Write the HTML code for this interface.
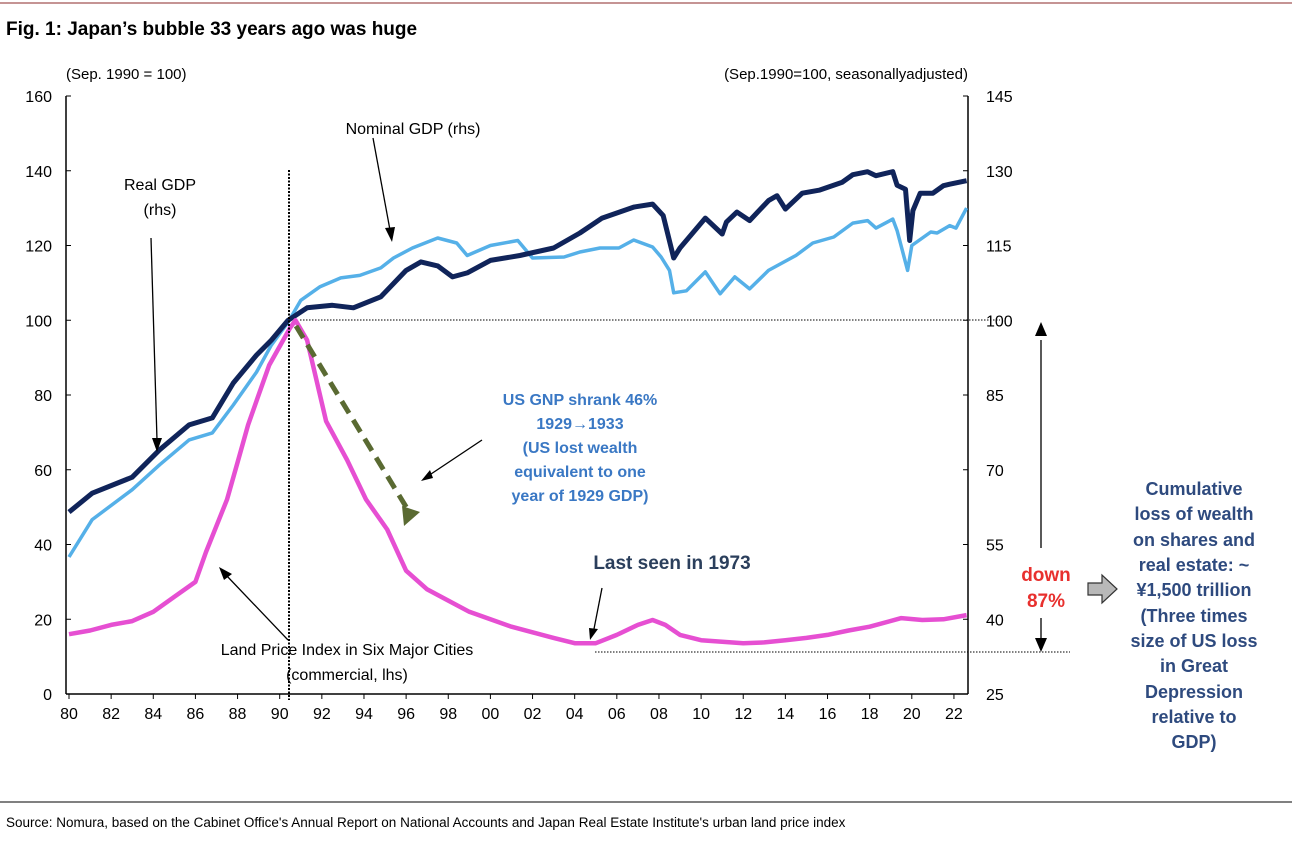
<!DOCTYPE html>
<html><head><meta charset="utf-8"><style>
body{margin:0;background:#fff;}
svg text{font-family:"Liberation Sans",Arial,sans-serif;}
</style></head><body>
<svg width="1292" height="843" viewBox="0 0 1292 843" xmlns="http://www.w3.org/2000/svg">
<line x1="0" y1="3" x2="1292" y2="3" stroke="#8b2a2a" stroke-width="1"/>
<text x="6" y="35" font-size="19" font-weight="bold" fill="#000">Fig. 1: Japan’s bubble 33 years ago was huge</text>
<text x="66" y="79" font-size="15" fill="#000">(Sep. 1990 = 100)</text>
<text x="968" y="79" font-size="15" fill="#000" text-anchor="end">(Sep.1990=100, seasonallyadjusted)</text>
<g id="axes"></g>
<g id="series"></g>
<g id="annot">
<line x1="289" y1="170" x2="289" y2="700" stroke="#000" stroke-width="2" stroke-dasharray="2,1.5"/>
<line x1="300" y1="320" x2="1000" y2="320" stroke="#000" stroke-width="1" stroke-dasharray="1.5,1.5"/>
<line x1="595" y1="652" x2="1070" y2="652" stroke="#000" stroke-width="1" stroke-dasharray="1.5,1.5"/>
<line x1="296" y1="326" x2="408" y2="510" stroke="#5a6a32" stroke-width="5" stroke-dasharray="14,8"/>
<polygon points="404,526 402,506 420,512" fill="#5a6a32"/>
<g stroke="#000" stroke-width="1.3" fill="none">
<line x1="151" y1="238" x2="157" y2="440"/>
<line x1="373" y1="138" x2="390" y2="230"/>
<line x1="482" y1="440" x2="425" y2="478"/>
<line x1="288" y1="640" x2="226" y2="575"/>
<line x1="602" y1="588" x2="593" y2="634"/>
<line x1="1041" y1="340" x2="1041" y2="548"/>
<line x1="1041" y1="618" x2="1041" y2="640"/>
</g>
<g fill="#000">
<polygon points="157,452 152,438 162,438"/>
<polygon points="392,242 385,228 395,227"/>
<polygon points="421,481 430,470 433,478"/>
<polygon points="219,567 232,574 224,580"/>
<polygon points="590,640 589,628 598,629"/>
<polygon points="1041,322 1035,336 1047,336"/>
<polygon points="1041,652 1035,638 1047,638"/>
</g>
<polygon points="1088,583 1102,583 1102,575 1117,589 1102,603 1102,595 1088,595" fill="#b8b8b8" stroke="#333" stroke-width="1.2"/>
<g font-size="16" fill="#000" text-anchor="middle">
<text x="160" y="190">Real GDP</text>
<text x="160" y="215">(rhs)</text>
<text x="413" y="134">Nominal GDP (rhs)</text>
<text x="347" y="655">Land Price Index in Six Major Cities</text>
<text x="347" y="680">(commercial, lhs)</text>
</g>
<g font-size="16" font-weight="bold" fill="#3a78c4" text-anchor="middle">
<text x="580" y="405">US GNP shrank 46%</text>
<text x="580" y="429">1929→1933</text>
<text x="580" y="453">(US lost wealth</text>
<text x="580" y="477">equivalent to one</text>
<text x="580" y="501">year of 1929 GDP)</text>
</g>
<text x="672" y="569" font-size="19" font-weight="bold" fill="#2b3f5c" text-anchor="middle">Last seen in 1973</text>
<g font-size="19" font-weight="bold" fill="#e8302e" text-anchor="middle">
<text x="1046" y="581">down</text><text x="1046" y="607">87%</text>
</g>
<g font-size="18" font-weight="bold" fill="#2e4a7e" text-anchor="middle">
<text x="1194" y="495">Cumulative</text>
<text x="1194" y="520">loss of wealth</text>
<text x="1194" y="546">on shares and</text>
<text x="1194" y="571">real estate: ~</text>
<text x="1194" y="596">¥1,500 trillion</text>
<text x="1194" y="622">(Three times</text>
<text x="1194" y="647">size of US loss</text>
<text x="1194" y="672">in Great</text>
<text x="1194" y="698">Depression</text>
<text x="1194" y="723">relative to</text>
<text x="1194" y="748">GDP)</text>
</g>
</g>
<line x1="0" y1="802" x2="1292" y2="802" stroke="#000" stroke-width="1"/>
<text x="6" y="827" font-size="13.5" fill="#000">Source: Nomura, based on the Cabinet Office's Annual Report on National Accounts and Japan Real Estate Institute's urban land price index</text>
</svg>
<script>
const xTicks=[80,82,84,86,88,90,92,94,96,98,0,2,4,6,8,10,12,14,16,18,20,22];
const leftTicks=[0,20,40,60,80,100,120,140,160];
const rightTicks=[25,40,55,70,85,100,115,130,145];
const landYears=[1980,1981,1982,1983,1984,1985,1986,1986.5,1987,1987.5,1988,1988.5,1989,1989.5,1990,1990.5,1990.75,1991.3,1992.2,1993.2,1994.1,1995.1,1996,1997,1998,1999,2000,2001,2002,2003,2004,2005,2006,2007,2007.7,2008.3,2009,2010,2011,2012,2013,2014,2015,2016,2017,2018,2019.5,2020.5,2021.5,2022.6];
const landValues=[16,17,18.5,19.5,22,26,30,38,45,52,62,72,80,88,93,98,100,94.7,73,62.6,52,44,33,28,25,22,20,18,16.5,15,13.6,13.6,15.8,18.5,19.8,18.5,15.8,14.4,14,13.6,13.8,14.4,15,15.8,17,18,20.3,19.8,20,21.1];
const nomYears=[1980,1981.1,1983,1984.3,1985.7,1986.8,1987.8,1988.9,1989.6,1990.4,1991,1991.9,1992.9,1993.8,1994.8,1995.4,1996.3,1997.5,1998.4,1998.9,2000,2001.3,2002,2003.5,2004.25,2005.2,2006.1,2006.8,2007.7,2008.1,2008.5,2008.7,2009.3,2010.2,2010.9,2011.6,2012.3,2013.2,2014.5,2015.3,2016.3,2017.2,2017.9,2018.3,2019.1,2019.3,2019.8,2020,2020.9,2021.2,2021.8,2022.1,2022.6];
const nomValues=[52.5,60,66,71,76,77.4,83,89.6,95,99.6,104,106.7,108.5,109,110.5,112.5,114.5,116.5,115.5,113,115,116,112.5,112.7,113.7,114.5,114.5,116.1,114.7,112.7,110,105.5,105.9,109.7,105.3,108.7,106.3,110,113,115.5,116.7,119.5,120,118.5,120.3,118,110,115,117.7,117.5,119,118.5,122.5];
const realYears=[1980,1981.1,1983,1984.3,1985.7,1986.8,1987.8,1988.9,1989.6,1990.4,1991.3,1992.5,1993.5,1994.8,1996,1996.7,1997.5,1998.2,1998.9,2000,2001.4,2003,2004.25,2005.3,2006.8,2007.7,2008.2,2008.7,2009,2010.2,2011,2011.2,2011.7,2012.3,2013.2,2013.6,2014,2014.8,2015.6,2016.7,2017.2,2017.9,2018.3,2019.1,2019.3,2019.7,2019.9,2020.05,2020.4,2021,2021.5,2021.8,2022.6];
const realValues=[61.5,65.3,68.5,74,79,80.4,87.4,93,96,100,102.5,103,102.5,104.7,110,111.7,110.9,108.7,109.5,112,113,114.5,117.5,120.5,122.7,123.3,121,112.5,114.5,120.5,117.3,119.7,121.7,120,124,125,122.3,125.5,126.1,127.7,129.2,129.8,129,129.8,127.1,126.3,116,122,125.5,125.5,127,127.3,128];
const NS="http://www.w3.org/2000/svg";
const X0=69,PXY=21.07,Y0=694,LTOP=96;
function xs(yr){return X0+(yr-1980)*PXY;}
function yl(v){return Y0-v*(Y0-LTOP)/160;}
function yr(v){return Y0-(v-25)*(Y0-LTOP)/120;}
function mk(tag,attrs,parent){const e=document.createElementNS(NS,tag);for(const k in attrs)e.setAttribute(k,attrs[k]);parent.appendChild(e);return e;}
const ax=document.getElementById('axes');
const lAxis=mk('line',{x1:66,y1:LTOP,x2:66,y2:Y0,stroke:'#000','stroke-width':1.5},ax);


const rAxis=mk('line',{x1:968,y1:LTOP,x2:968,y2:Y0,stroke:'#000','stroke-width':1.5},ax);


const xAxis=mk('line',{x1:66,y1:Y0,x2:968,y2:Y0,stroke:'#000','stroke-width':1.5},ax);


leftTicks.forEach(v=>{const y=yl(v);mk('line',{x1:66,y1:y,x2:71,y2:y,stroke:'#000'},ax);
const t=mk('text',{x:52,y:y+6,'font-size':16,'text-anchor':'end'},ax);t.textContent=v;

});
rightTicks.forEach(v=>{const y=yr(v);mk('line',{x1:963,y1:y,x2:968,y2:y,stroke:'#000'},ax);
const t=mk('text',{x:986,y:y+6,'font-size':16},ax);t.textContent=v;

});
xTicks.forEach(v=>{const yrv=v>=80?1900+v:2000+v;const x=xs(yrv);mk('line',{x1:x,y1:Y0,x2:x,y2:Y0+5,stroke:'#000'},ax);
const t=mk('text',{x:x,y:Y0+25,'font-size':16,'text-anchor':'middle'},ax);t.textContent=String(v).padStart(2,'0');

});
const sg=document.getElementById('series');
function line(years,vals,yf,color,w){return mk('polyline',{points:years.map((y,i)=>xs(y).toFixed(1)+','+yf(vals[i]).toFixed(1)).join(' '),fill:'none',stroke:color,'stroke-width':w,'stroke-linejoin':'round'},sg);}
const pNom=line(nomYears,nomValues,yr,'#55b0e8',3.5);


const pReal=line(realYears,realValues,yr,'#10245a',5);


const pLand=line(landYears,landValues,yl,'#e64fd2',4.5);


</script>
</body></html>
